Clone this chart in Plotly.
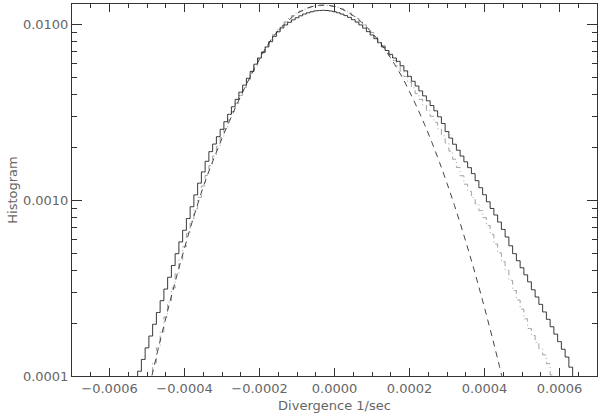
import numpy as np
import plotly.graph_objects as go

# histogram bin centres, 1e-6 1/sec steps
solid_x = np.arange(-530, 641, 10) * 1e-6
solid_y = [
    9.12e-5, 1.064e-4, 1.242e-4, 1.445e-4, 1.687e-4, 1.968e-4, 2.296e-4, 2.679e-4,
    3.119e-4, 3.639e-4, 4.246e-4, 4.955e-4, 5.781e-4, 6.730e-4, 7.852e-4, 9.162e-4,
    1.069e-3, 1.247e-3, 1.445e-3, 1.660e-3, 1.884e-3, 2.080e-3, 2.291e-3, 2.523e-3,
    2.786e-3, 3.069e-3, 3.388e-3, 3.733e-3, 4.102e-3, 4.498e-3, 4.920e-3, 5.383e-3,
    5.916e-3, 6.412e-3, 6.902e-3, 7.413e-3, 7.943e-3, 8.511e-3, 9.036e-3, 9.506e-3,
    9.886e-3, 1.023e-2, 1.057e-2, 1.086e-2, 1.114e-2, 1.140e-2, 1.159e-2, 1.175e-2,
    1.189e-2, 1.194e-2, 1.197e-2, 1.194e-2, 1.186e-2, 1.175e-2, 1.159e-2, 1.140e-2,
    1.117e-2, 1.091e-2, 1.059e-2, 1.026e-2, 9.886e-3, 9.484e-3, 9.057e-3, 8.670e-3,
    8.260e-3, 7.834e-3, 7.413e-3, 7.079e-3, 6.730e-3, 6.412e-3, 6.138e-3, 5.794e-3,
    5.420e-3, 5.047e-3, 4.732e-3, 4.446e-3, 4.169e-3, 3.908e-3, 3.664e-3, 3.443e-3,
    3.214e-3, 2.972e-3, 2.723e-3, 2.449e-3, 2.249e-3, 2.075e-3, 1.919e-3, 1.778e-3,
    1.648e-3, 1.528e-3, 1.413e-3, 1.288e-3, 1.175e-3, 1.072e-3, 9.772e-4, 8.954e-4,
    8.222e-4, 7.499e-4, 6.808e-4, 6.166e-4, 5.495e-4, 4.955e-4, 4.519e-4, 4.121e-4,
    3.758e-4, 3.428e-4, 3.090e-4, 2.812e-4, 2.553e-4, 2.312e-4, 2.099e-4, 1.905e-4,
    1.730e-4, 1.567e-4, 1.419e-4, 1.282e-4, 1.122e-4, 9.77e-5,
]

dashed_x = np.arange(-500, 461, 20) * 1e-6
dashed_y = [
    7.586e-5, 1.161e-4, 1.750e-4, 2.582e-4, 3.750e-4, 5.333e-4, 7.464e-4, 1.023e-3,
    1.365e-3, 1.758e-3, 2.239e-3, 2.818e-3, 3.508e-3, 4.315e-3, 5.248e-3, 6.310e-3,
    7.499e-3, 8.650e-3, 9.683e-3, 1.062e-2, 1.146e-2, 1.211e-2, 1.256e-2, 1.279e-2,
    1.279e-2, 1.259e-2, 1.216e-2, 1.153e-2, 1.079e-2, 9.886e-3, 8.933e-3, 7.925e-3,
    6.902e-3, 5.916e-3, 5.012e-3, 4.130e-3, 3.365e-3, 2.692e-3, 2.118e-3, 1.637e-3,
    1.245e-3, 9.311e-4, 6.839e-4, 4.932e-4, 3.508e-4, 2.443e-4, 1.679e-4, 1.132e-4,
    7.499e-5,
]

dashdot_x = np.arange(-500, 591, 10) * 1e-6
dashdot_y = [
    7.943e-5, 9.550e-5, 1.189e-4, 1.445e-4, 1.778e-4, 2.163e-4, 2.630e-4, 3.162e-4,
    3.802e-4, 4.571e-4, 5.433e-4, 6.457e-4, 7.586e-4, 8.913e-4, 1.035e-3, 1.202e-3,
    1.380e-3, 1.567e-3, 1.778e-3, 2.018e-3, 2.265e-3, 2.541e-3, 2.851e-3, 3.184e-3,
    3.548e-3, 3.936e-3, 4.365e-3, 4.808e-3, 5.297e-3, 5.808e-3, 6.368e-3, 6.950e-3,
    7.551e-3, 8.128e-3, 8.710e-3, 9.268e-3, 9.795e-3, 1.028e-2, 1.074e-2, 1.117e-2,
    1.153e-2, 1.186e-2, 1.216e-2, 1.239e-2, 1.256e-2, 1.268e-2, 1.274e-2, 1.276e-2,
    1.274e-2, 1.268e-2, 1.259e-2, 1.242e-2, 1.219e-2, 1.189e-2, 1.153e-2, 1.117e-2,
    1.076e-2, 1.033e-2, 9.886e-3, 9.419e-3, 8.954e-3, 8.472e-3, 7.998e-3, 7.534e-3,
    7.079e-3, 6.637e-3, 6.209e-3, 5.794e-3, 5.408e-3, 5.035e-3, 4.677e-3, 4.345e-3,
    4.027e-3, 3.733e-3, 3.467e-3, 3.221e-3, 2.992e-3, 2.767e-3, 2.541e-3, 2.317e-3,
    2.109e-3, 1.897e-3, 1.706e-3, 1.531e-3, 1.374e-3, 1.230e-3, 1.122e-3, 1.033e-3,
    9.506e-4, 8.710e-4, 7.943e-4, 7.161e-4, 6.383e-4, 5.623e-4, 5.012e-4, 4.467e-4,
    3.981e-4, 3.499e-4, 3.062e-4, 2.704e-4, 2.399e-4, 2.113e-4, 1.862e-4, 1.698e-4,
    1.549e-4, 1.426e-4, 1.318e-4, 1.175e-4, 1.014e-4, 8.710e-5,
]

x_ticks = [-0.0006, -0.0004, -0.0002, 0.0, 0.0002, 0.0004, 0.0006]
x_labels = ["\u22120.0006", "\u22120.0004", "\u22120.0002", "0.0000", "0.0002", "0.0004", "0.0006"]
y_ticks = [0.0001, 0.001, 0.01]
y_labels = ["0.0001", "0.0010", "0.0100"]

font = dict(family="DejaVu Sans", size=13, color="#666666")

fig = go.Figure()
fig.add_trace(go.Scatter(x=dashdot_x, y=dashdot_y, mode="lines", line_shape="hvh",
                         line=dict(color="#a0a0a0", width=1, dash="6px,3px,1px,3px")))
fig.add_trace(go.Scatter(x=dashed_x, y=dashed_y, mode="lines", line_shape="spline",
                         line=dict(color="#444444", width=1, dash="6px,5px")))
fig.add_trace(go.Scatter(x=solid_x, y=solid_y, mode="lines", line_shape="hvh",
                         line=dict(color="#222222", width=0.9)))

axis_common = dict(showline=True, linecolor="#333333", linewidth=1, mirror="allticks",
                   ticks="inside", tickcolor="#333333", showgrid=False, zeroline=False,
                   tickfont=font, automargin=False)

fig.update_xaxes(range=[-0.0007, 0.0007], tickvals=x_ticks, ticktext=x_labels, ticklen=8,
                 minor=dict(ticks="inside", dtick=0.00005, ticklen=4, tickcolor="#333333"),
                 title=dict(text="Divergence 1/sec", font=font, standoff=6), **axis_common)
fig.update_yaxes(type="log", range=[-4, -1.886], tickvals=y_ticks, ticktext=y_labels, ticklen=10,
                 minor=dict(ticks="inside", dtick="D1", ticklen=5, tickcolor="#333333"),
                 title=dict(text="Histogram", font=font, standoff=2), **axis_common)

fig.update_layout(width=600, height=416, showlegend=False,
                  margin=dict(l=72, r=3, t=4, b=40),
                  plot_bgcolor="white", paper_bgcolor="white", font=font)

# drop the default page margin so the figure sits at the window corner
fig.write_html("out.html", config={"displayModeBar": False},
               post_script="document.body.style.margin='0px';")
